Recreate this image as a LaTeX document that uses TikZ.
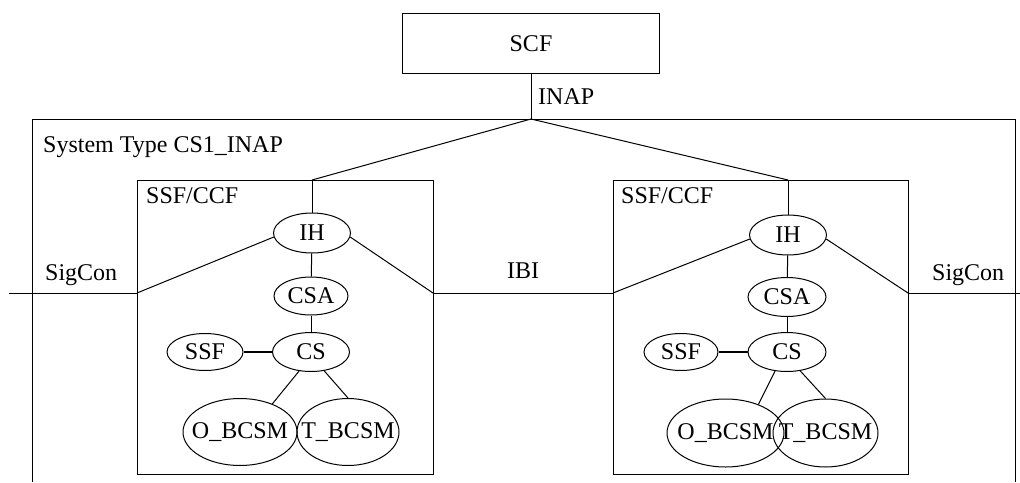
\documentclass[tikz,border=0pt]{standalone}
\usepackage{fontspec}
\setmainfont{Liberation Serif}
\usetikzlibrary{shapes.geometric}
\newcommand\zw[1]{\makebox[0pt]{#1}}
\begin{document}
\begin{tikzpicture}[x=1pt,y=-1pt,
  every node/.style={font=\fontsize{24}{28}\selectfont},
  ln/.style={line width=1pt},
  thk/.style={line width=2pt},
  ell/.style={draw,ellipse,inner sep=0pt,line width=1pt},
  boxn/.style={draw,rectangle,line width=1pt,inner sep=0pt,anchor=north west},
  lbl/.style={anchor=base west,inner sep=0pt}]
\useasboundingbox (0,0) rectangle (1020,482);
% SCF
\node[boxn,minimum width=257pt,minimum height=60pt] (scf) at (402,13) {};
\node (scft) at (scf.center) {SCF};
% outer system frame
\coordinate (top) at (531,119);
\draw[ln] (32,482) -- (32,119) -- (1015,119) -- (1015,482);
\draw[ln] (scf.south) -- (top);
\node[lbl] (inap) at (538,104) {INAP};
\node[lbl] (sys) at (43,152) {System Type CS1\_INAP};
% SSF/CCF boxes
\node[boxn,minimum width=296pt,minimum height=294pt] (b1) at (137,180) {};
\node[boxn,minimum width=295pt,minimum height=294pt] (b2) at (613,180) {};
\node[lbl] (t1) at (146,203) {SSF/CCF};
\node[lbl] (t2) at (621,203) {SSF/CCF};
% coordinates on boxes
\coordinate (b1t) at (312,180);
\coordinate (b2t) at (788,180);
\coordinate (b1l) at (137,293);
\coordinate (b1r) at (433,293);
\coordinate (b2l) at (613,293);
\coordinate (b2r) at (908,293);
\coordinate (le) at (9,293);
\coordinate (re) at (1020,293);
% left box ellipses
\node[ell,minimum width=77pt,minimum height=40pt] (ih1) at (312,233) {\zw{IH}};
\node[ell,minimum width=74pt,minimum height=38pt] (csa1) at (311,296) {\zw{CSA}};
\node[ell,minimum width=77pt,minimum height=39pt] (cs1) at (311,352) {\zw{CS}};
\node[ell,minimum width=76pt,minimum height=37pt] (ssf1) at (205,352) {\zw{SSF}};
\node[ell,minimum width=114pt,minimum height=67pt] (o1) at (240,432) {\zw{O\_BCSM}};
\node[ell,minimum width=102pt,minimum height=67pt] (tb1) at (348,432) {\zw{T\_BCSM}};
% right box ellipses
\node[ell,minimum width=77pt,minimum height=40pt] (ih2) at (788,235) {\zw{IH}};
\node[ell,minimum width=78pt,minimum height=39pt] (csa2) at (787,297) {\zw{CSA}};
\node[ell,minimum width=78pt,minimum height=39pt] (cs2) at (787,352) {\zw{CS}};
\node[ell,minimum width=74pt,minimum height=37pt] (ssf2) at (681,352) {\zw{SSF}};
\node[ell,minimum width=117pt,minimum height=68pt] (o2) at (725.5,433) {\zw{O\_BCSM}};
\node[ell,minimum width=105pt,minimum height=68pt] (tb2) at (825.5,433) {\zw{T\_BCSM}};
% labels on lines
\node[lbl] (sc1) at (45,280) {SigCon};
\node[lbl] (sc2) at (932,280) {SigCon};
\node[lbl] (ibi) at (507,278) {IBI};
% connectors
\draw[ln] (top) -- (b1t);
\draw[ln] (top) -- (b2t);
\draw[ln] (b1t) -- (ih1.north);
\draw[ln] (b2t) -- (ih2.north);
\draw[ln] (le) -- (b1l);
\draw[ln] (b1r) -- (b2l);
\draw[ln] (b2r) -- (re);
\draw[ln] (ih1.186) -- (b1l);
\draw[ln] (ih1.-6) -- (b1r);
\draw[ln] (ih2.186) -- (b2l);
\draw[ln] (ih2.-6) -- (b2r);
\draw[ln] (ih1) -- (csa1);
\draw[ln] (csa1) -- (cs1);
\draw[ln] (ih2) -- (csa2);
\draw[ln] (csa2) -- (cs2);
\draw[thk] (ssf1) -- (cs1);
\draw[thk] (ssf2) -- (cs2);
\draw[ln] (cs1.238) -- (o1.41);
\draw[ln] (cs1.-55) -- (tb1.north);
\draw[ln] (cs2.238) -- (o2.41);
\draw[ln] (cs2.-55) -- (tb2.north);
\end{tikzpicture}
\end{document}
